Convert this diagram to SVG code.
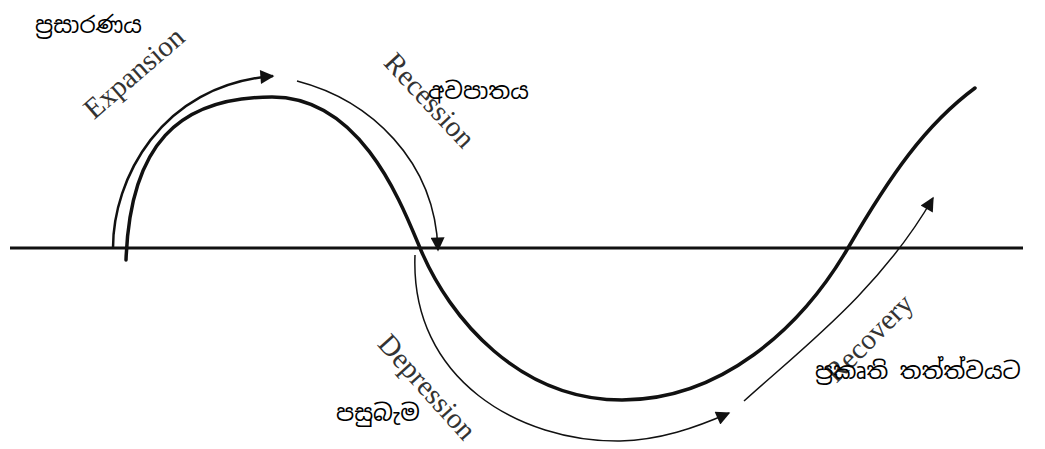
<svg xmlns="http://www.w3.org/2000/svg" width="1045" height="449" viewBox="0 0 1045 449">
<defs>
<style>
.axis{stroke:#111;stroke-width:3;fill:none}
.main{stroke:#111;stroke-width:3.5;fill:none;stroke-linecap:round}
.arrow{stroke:#111;fill:none}
.lbl{font-family:"Liberation Serif","Times New Roman",serif;font-size:29px;fill:#333;text-anchor:middle}
.si{font-family:"Noto Sans Sinhala","Iskoola Pota","Noto Sans","DejaVu Sans",sans-serif;font-size:23px;fill:#000}
</style>
<marker id="ah" viewBox="0 0 10 10" refX="9" refY="5" markerWidth="17" markerHeight="14" markerUnits="userSpaceOnUse" orient="auto">
<path d="M0,0 L10,5 L0,10 Z" fill="#111"/>
</marker>
</defs>
<rect width="1045" height="449" fill="#ffffff"/>
<g id="axis"><line class="axis" x1="10" y1="248" x2="1023" y2="248"/></g>
<g id="cycle-curve"><path class="main" d="M126,260 C130,145 178,97 272,97 C360,97 400,200 420,248 C450,320 520,400 622,400 C720,400 800,330 848,248 C890,176 925,125 975,88"/></g>
<g id="connectors">
<path class="arrow" stroke-width="2.5" marker-end="url(#ah)" d="M113,248 C113,180 160,85 273,76"/>
<path class="arrow" stroke-width="1.5" marker-end="url(#ah)" d="M297,81 C370,100 435,160 438,250"/>
<path class="arrow" stroke-width="1.5" marker-end="url(#ah)" d="M415,255 C410,380 520,442 620,441 C660,440 695,428 729,413"/>
<path class="arrow" stroke-width="1.5" marker-end="url(#ah)" d="M744,401 C800,350 880,290 933,198"/>
</g>
<g id="expansion"><text class="lbl" transform="translate(135,74) rotate(-41)" x="0" y="8">Expansion</text><text class="si" x="35" y="33">ප්‍රසාරණය</text></g>
<g id="recession"><text class="lbl" transform="translate(430,100) rotate(47)" x="0" y="10">Recession</text><text class="si" x="428" y="99">අවපාතය</text></g>
<g id="depression"><text class="lbl" transform="translate(426,388) rotate(48)" x="0" y="8">Depression</text><text class="si" x="336" y="421">පසුබැම</text></g>
<g id="recovery"><text class="lbl" transform="translate(870,339) rotate(-45)" x="0" y="8">Recovery</text><text class="si" x="815" y="379">ප්‍රකෘති තත්ත්වයට</text></g>
</svg>
